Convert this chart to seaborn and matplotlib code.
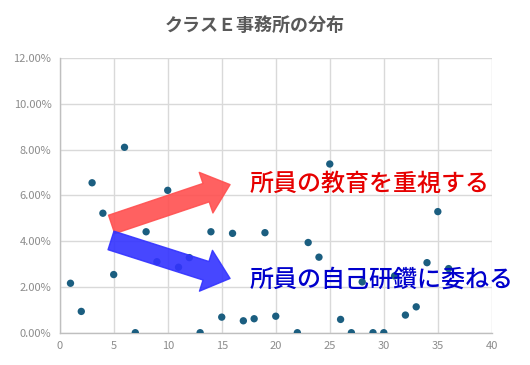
import matplotlib
matplotlib.use("Agg")
import matplotlib.pyplot as plt
import seaborn as sns
import pandas as pd
from matplotlib.ticker import FuncFormatter

office_no = [1, 2, 3, 4, 5, 6, 7, 8, 9, 10, 11, 12, 13, 14, 15, 16, 17, 18, 19, 20,
             22, 23, 24, 25, 26, 27, 28, 29, 30, 31, 32, 33, 34, 35, 36]
share_pct = [2.16, 0.93, 6.55, 5.22, 2.54, 8.10, 0.0, 4.41, 3.10, 6.22, 2.86, 3.28, 0.0, 4.41, 0.68,
             4.34, 0.52, 0.61, 4.37, 0.72, 0.0, 3.94, 3.30, 7.37, 0.58, 0.0, 2.22, 0.0, 0.0, 2.48,
             0.77, 1.13, 3.06, 5.29, 2.80]
x_ticks = [0, 5, 10, 15, 20, 25, 30, 35, 40]
y_ticks = [0, 2, 4, 6, 8, 10, 12]
title = "クラスＥ事務所の分布"
label_up = "所員の教育を重視する"
label_down = "所員の自己研鑽に委ねる"

df = pd.DataFrame({"no": office_no, "share": share_pct})

sns.set_theme(style="white")
plt.rcParams['font.family'] = ['Noto Sans CJK JP', 'DejaVu Sans']

fig = plt.figure(figsize=(5.3, 3.65), dpi=100)
ax = fig.add_axes([0.1126, 0.0885, 0.928 - 0.1126, 0.841 - 0.0885])

sns.scatterplot(data=df, x="no", y="share", ax=ax, color="#1b5e80", s=28,
                edgecolor="none", zorder=3)

ax.set_xlim(0, 40)
ax.set_ylim(0, 12)
ax.set_xticks(x_ticks)
ax.set_yticks(y_ticks)
ax.yaxis.set_major_formatter(FuncFormatter(lambda v, p: f"{v:.2f}%"))
ax.grid(True, color="#d9d9d9", linewidth=1)
ax.set_axisbelow(True)
for s in ["top", "right"]:
    ax.spines[s].set_visible(False)
for s in ["left", "bottom"]:
    ax.spines[s].set_color("#bfbfbf")
    ax.spines[s].set_linewidth(1)
ax.tick_params(axis="both", colors="#8c8c8c", labelsize=8, length=0, pad=6)
ax.set_xlabel("")
ax.set_ylabel("")

fig.text(0.481, 0.93, title, ha="center", va="center", fontsize=13,
         fontweight="bold", color="#595959")

# arrows
ax.annotate("", xy=(15.77, 6.47), xytext=(4.81, 4.73),
            arrowprops=dict(arrowstyle="simple,head_length=1.3,head_width=2.2,tail_width=1.0",
                            color="#ff5050", alpha=0.9, mutation_scale=14, shrinkA=0, shrinkB=0),
            zorder=4)
ax.annotate("", xy=(15.77, 2.37), xytext=(4.75, 4.03),
            arrowprops=dict(arrowstyle="simple,head_length=1.3,head_width=2.2,tail_width=1.0",
                            color="#3333ff", alpha=0.9, mutation_scale=14, shrinkA=0, shrinkB=0),
            zorder=4)

ax.text(17.6, 6.5, label_up, ha="left", va="center", fontsize=17.3, color="#e60000",
        fontweight="medium", zorder=5)
ax.text(17.6, 2.33, label_down, ha="left", va="center", fontsize=17.3, color="#0000cc",
        fontweight="medium", zorder=5)

fig.savefig("out.png", dpi=100)
